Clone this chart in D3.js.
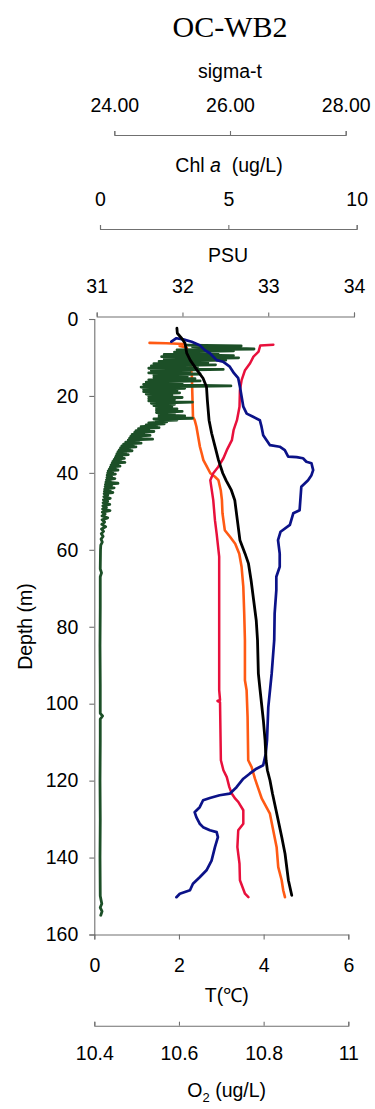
<!DOCTYPE html>
<html>
<head>
<meta charset="utf-8">
<script src="https://cdn.jsdelivr.net/npm/d3@7"></script>
<style>
  html, body { margin: 0; padding: 0; background: #fff; }
  svg { display: block; }
</style>
</head>
<body>
<svg id="chart" width="375" height="1109"></svg>
<script>
// CTD cast, station OC-WB2. Each profile is a list of [depth (m), value].

// Temperature (°C)
const temperature = [
  [6.7,4.23],[6.9,3.92],[8.5,3.88],[9.8,3.76],[11.5,3.68],[13.3,3.56],[15.9,3.48],
  [18.5,3.44],[22.8,3.43],[26.3,3.37],[28.9,3.29],[31.5,3.25],[34.1,3.13],[36.2,3.05],
  [38.4,2.93],[40.1,2.81],[41.9,2.74],[47.1,2.81],[52.3,2.85],[55.8,2.89],[61.8,2.95],
  [83.5,2.95],[96.5,2.95],[99.0,2.97],[99.3,2.91],[99.6,2.97],[114.7,2.99],[117.3,3.05],
  [119.1,3.13],[121.7,3.19],[123.4,3.25],[124.7,3.33],[125.5,3.40],[127.7,3.52],
  [131.2,3.52],[132.9,3.40],[137.3,3.38],[141.6,3.43],[145.9,3.44],[149.4,3.56],[150.3,3.64]
];

// Salinity (PSU)
const salinity = [
  [2.4,31.935],[3.7,31.94],[5.0,31.99],[6.3,32.03],[8.9,32.05],[10.7,32.09],[13.3,32.17],
  [15.4,32.24],[17.6,32.28],[21.1,32.29],[26.3,32.31],[29.7,32.34],[33.2,32.38],
  [36.7,32.42],[40.1,32.47],[42.0,32.51],[44.5,32.57],[47.1,32.61],[52.3,32.64],
  [57.5,32.67],[61.0,32.73],[63.6,32.77],[67.9,32.80],[73.1,32.83],[78.3,32.86],
  [83.5,32.875],[92.2,32.885],[96.5,32.905],[104.3,32.943],[109.5,32.963],[114.7,32.975],
  [117.3,32.99],[119.9,33.02],[123.4,33.05],[128.6,33.10],[134.7,33.158],[139.0,33.196],
  [145.9,33.235],[149.8,33.274]
];

// Density anomaly, sigma-t
const sigmaT = [
  [6.2,24.61],[6.3,24.9],[6.5,25.2],[7.0,25.13],[7.4,25.25],[10.0,25.30],[14.6,25.34],
  [20.0,25.35],[25.4,25.36],[26.3,25.39],[28.0,25.42],[30.6,25.45],[33.2,25.48],
  [34.9,25.51],[36.7,25.54],[38.4,25.60],[40.1,25.66],[41.0,25.74],[41.9,25.80],
  [44.5,25.84],[47.0,25.86],[50.5,25.87],[54.9,25.91],[56.6,26.00],[58.4,26.09],
  [61.0,26.16],[64.4,26.20],[69.6,26.23],[76.6,26.246],[83.5,26.258],[93.9,26.258],
  [96.5,26.287],[103.5,26.304],[114.7,26.315],[116.5,26.374],[119.5,26.431],
  [122.1,26.49],[124.7,26.55],[128.6,26.69],[132.9,26.747],[137.3,26.806],
  [142.5,26.834],[145.9,26.893],[148.5,26.92],[150.3,26.95]
];

// Chlorophyll a (ug/L)
const chlA = [
  [6.8,3.4],[7.0,5.5],[7.2,3.6],[7.5,4.8],[7.8,6.0],[8.0,3.0],[8.3,5.2],[8.6,2.9],[8.9,4.6],
  [9.2,2.5],[9.5,5.2],[9.8,2.4],[10.1,5.4],[10.4,2.5],[10.7,4.9],[11.0,2.3],[11.3,4.2],
  [11.6,2.1],[11.9,4.5],[12.2,2.0],[12.5,3.8],[12.8,1.9],[13.1,4.8],[13.4,2.0],[13.7,3.5],
  [14.0,1.9],[14.3,3.9],[14.6,2.1],[14.9,3.4],[15.2,2.1],[15.5,3.7],[15.8,1.9],[16.1,3.9],
  [16.4,1.8],[16.7,3.2],[17.0,1.7],[17.4,5.1],[17.7,1.6],[18.0,3.3],[18.3,1.7],[18.6,3.0],
  [18.9,1.7],[19.2,3.1],[19.5,1.8],[19.8,2.8],[20.1,1.9],[20.4,3.2],[20.7,1.9],[21.0,2.9],
  [21.3,1.9],[21.6,3.6],[21.9,2.0],[22.2,2.9],[22.5,2.1],[22.8,2.8],[23.1,2.2],[23.4,3.0],
  [23.7,2.2],[24.0,3.2],[24.3,2.2],[24.6,2.9],[24.9,2.3],[25.2,3.3],[25.5,2.3],[25.8,3.6],
  [26.0,2.1],[26.25,3.0],[26.5,2.2],[26.75,2.6],[27.0,1.9],[27.25,2.5],[27.5,1.8],[27.75,2.2],
  [28.0,1.6],[28.25,2.3],[28.5,1.5],[28.75,1.9],[29.0,1.4],[29.25,2.1],[29.5,1.35],[29.75,1.7],
  [30.0,1.25],[30.25,1.95],[30.5,1.2],[30.75,1.6],[31.0,1.15],[31.25,2.05],[31.5,1.1],[31.75,1.5],
  [32.0,1.0],[32.25,1.6],[32.5,0.92],[32.75,1.3],[33.0,0.85],[33.25,1.4],[33.5,0.8],[33.75,1.15],
  [34.0,0.75],[34.25,1.25],[34.5,0.7],[34.75,1.0],[35.0,0.66],[35.25,1.1],[35.5,0.63],[35.75,0.85],
  [36.0,0.6],[36.25,0.95],[36.5,0.55],[36.75,0.8],[37.0,0.5],[37.25,0.97],[37.5,0.47],[37.75,0.7],
  [38.0,0.43],[38.25,0.78],[38.5,0.4],[38.75,0.6],[39.0,0.36],[39.25,0.7],[39.5,0.32],[39.75,0.5],
  [40.0,0.3],[40.3,0.6],[40.6,0.28],[40.9,0.45],[41.2,0.27],[41.5,0.58],[41.8,0.25],[42.1,0.4],
  [42.4,0.23],[42.7,0.7],[43.0,0.21],[43.3,0.45],[43.6,0.2],[43.9,0.55],[44.2,0.18],[44.5,0.4],
  [44.8,0.17],[45.1,0.5],[45.4,0.16],[45.8,0.3],[46.2,0.15],[46.6,0.4],[47.0,0.13],[47.4,0.3],
  [47.8,0.12],[48.2,0.38],[48.6,0.11],[49.0,0.25],[49.4,0.1],[49.8,0.39],[50.2,0.09],[50.7,0.2],
  [51.2,0.08],[51.7,0.3],[52.2,0.08],[52.8,0.18],[53.4,0.07],[54.0,0.22],[54.6,0.06],[55.2,0.14],
  [55.8,0.05],[56.5,0.12],[57.2,0.04],[58.0,0.09],[58.8,0.03],[60,0.02],[65,0.01],[66,0.06],
  [67,0.01],[75,0.01],[85,0.0],[95,0.01],[102.5,0.01],[103.2,0.1],[104,0.01],[110,0.01],
  [120,0.0],[130,0.01],[140,0.0],[150,0.01],[152,0.07],[153,0.01],[154,0.08],[155,0.03]
];

// Dissolved oxygen (ug/L)
const oxygen = [
  [5.9,10.582],[5.0,10.594],[5.3,10.61],[5.9,10.63],[6.8,10.649],[8.1,10.661],[8.9,10.673],
  [10.7,10.689],[11.1,10.704],[12.4,10.72],[14.1,10.73],[15.4,10.74],[17.6,10.744],
  [20.2,10.748],[22.8,10.752],[24.6,10.76],[25.4,10.775],[26.3,10.791],[28.0,10.795],
  [30.2,10.799],[31.5,10.807],[32.8,10.815],[33.2,10.838],[34.1,10.85],[35.8,10.858],
  [35.9,10.878],[36.2,10.893],[37.1,10.901],[37.5,10.913],[39.3,10.917],[40.6,10.913],
  [41.9,10.905],[43.6,10.889],[49.7,10.885],[50.5,10.87],[53.5,10.862],[55.3,10.84],
  [57.5,10.834],[61.0,10.838],[64.4,10.838],[67.0,10.83],[70.5,10.83],[76.6,10.826],
  [83.5,10.825],[92.2,10.819],[100.9,10.811],[109.5,10.808],[113.0,10.805],[116.0,10.799],
  [116.9,10.783],[118.2,10.767],[119.5,10.752],[121.7,10.736],[123.4,10.72],[123.8,10.696],
  [124.5,10.673],[125.1,10.657],[126.9,10.649],[128.2,10.637],[129.5,10.641],[131.2,10.649],
  [132.1,10.657],[132.9,10.673],[133.4,10.689],[134.7,10.692],[137.3,10.685],[140.8,10.677],
  [143.3,10.665],[145.1,10.649],[146.8,10.633],[148.5,10.626],[149.4,10.602],[150.3,10.594]
];

// Tick values for each axis
const depthTicks = [0, 20, 40, 60, 80, 100, 120, 140, 160];
const tempTicks = [0, 2, 4, 6];
const oxygenTicks = [10.4, 10.6, 10.8, 11];
const salinityTicks = [31, 32, 33, 34];
const chlTicks = [0, 5, 10];
const sigmaTicks = [24, 26, 28];

const FONT = "'Liberation Sans', Arial, Helvetica, sans-serif";
const FS = 19.5;

const svg = d3.select("#chart");

// Scales
const y = d3.scaleLinear().domain([0, 160]).range([319, 934.5]);
const xTemp = d3.scaleLinear().domain([0, 6]).range([94.3, 348.3]);
const xO2 = d3.scaleLinear().domain([10.4, 11]).range([94.3, 348.3]);
const xSal = d3.scaleLinear().domain([31, 34]).range([96.7, 354]);
const xChl = d3.scaleLinear().domain([0, 10]).range([100, 356.7]);
const xSig = d3.scaleLinear().domain([24, 28]).range([114.3, 345.7]);

function styleAxis(g) {
  g.attr("font-family", FONT).attr("font-size", FS);
  g.selectAll("path, line").attr("stroke", "#707070").attr("stroke-width", 1.1);
  g.selectAll("text").attr("fill", "#000");
}

// Top axes
svg.append("g").attr("transform", "translate(0,135)")
  .call(d3.axisTop(xSig).tickValues(sigmaTicks).tickFormat(d3.format(".2f"))
    .tickSize(4).tickPadding(19.5))
  .call(styleAxis);

svg.append("g").attr("transform", "translate(0,229)")
  .call(d3.axisTop(xChl).tickValues(chlTicks).tickFormat(d3.format("d"))
    .tickSize(4).tickPadding(19))
  .call(styleAxis);

svg.append("g").attr("transform", "translate(0,316.5)")
  .call(d3.axisTop(xSal).tickValues(salinityTicks).tickFormat(d3.format("d"))
    .tickSize(4).tickPadding(19.8))
  .call(styleAxis);

// Depth axis
svg.append("g").attr("transform", "translate(94.3,0)")
  .call(d3.axisLeft(y).tickValues(depthTicks).tickFormat(d3.format("d"))
    .tickSize(5).tickPadding(11))
  .call(styleAxis);

// Bottom axes
svg.append("g").attr("transform", "translate(0,934.5)")
  .call(d3.axisBottom(xTemp).tickValues(tempTicks).tickFormat(d3.format("d"))
    .tickSize(5).tickPadding(19))
  .call(styleAxis);

svg.append("g").attr("transform", "translate(0,1025.7)")
  .call(d3.axisBottom(xO2).tickValues(oxygenTicks).tickFormat(d => String(d))
    .tickSizeInner(-4).tickSizeOuter(-4).tickPadding(20))
  .call(styleAxis);

// Titles and axis names
svg.append("text").attr("x", 230).attr("y", 37).attr("text-anchor", "middle")
  .attr("font-family", "'Liberation Serif', 'Times New Roman', serif")
  .attr("font-size", 30).text("OC-WB2");

function label(x, yy, txt) {
  return svg.append("text").attr("x", x).attr("y", yy).attr("text-anchor", "middle")
    .attr("font-family", FONT).attr("font-size", FS).attr("fill", "#000").text(txt);
}
label(230, 77.5, "sigma-t");
const chlLabel = svg.append("text").attr("x", 229).attr("y", 172)
  .attr("text-anchor", "middle").attr("font-family", FONT).attr("font-size", FS)
  .style("white-space", "pre");
chlLabel.append("tspan").text("Chl ");
chlLabel.append("tspan").attr("font-style", "italic").text("a");
chlLabel.append("tspan").text("  (ug/L)");
label(228, 261.5, "PSU");
label(226.7, 1001.5, "T(\u2103)");

const o2Label = svg.append("text").attr("x", 226.7).attr("y", 1097)
  .attr("text-anchor", "middle").attr("font-family", FONT).attr("font-size", FS);
o2Label.append("tspan").text("O");
o2Label.append("tspan").attr("font-size", 13).attr("dy", 5).text("2");
o2Label.append("tspan").attr("dy", -5).style("white-space", "pre").text(" (ug/L)");

svg.append("text")
  .attr("transform", "translate(32,626.5) rotate(-90)")
  .attr("text-anchor", "middle").attr("font-family", FONT).attr("font-size", FS)
  .text("Depth (m)");

// Profiles
function profile(data, xScale, color, width) {
  const line = d3.line().x(d => xScale(d[1])).y(d => y(d[0]));
  svg.append("path").datum(data).attr("d", line)
    .attr("fill", "none").attr("stroke", color).attr("stroke-width", width)
    .attr("stroke-linejoin", "round").attr("stroke-linecap", "round");
}

profile(sigmaT, xSig, "#ff5a14", 2.6);
profile(chlA, xChl, "#1c4f27", 2.8);
profile(temperature, xTemp, "#e8103c", 2.5);
profile(oxygen, xO2, "#0b1288", 2.7);
profile(salinity, xSal, "#000000", 2.8);
</script>
</body>
</html>
